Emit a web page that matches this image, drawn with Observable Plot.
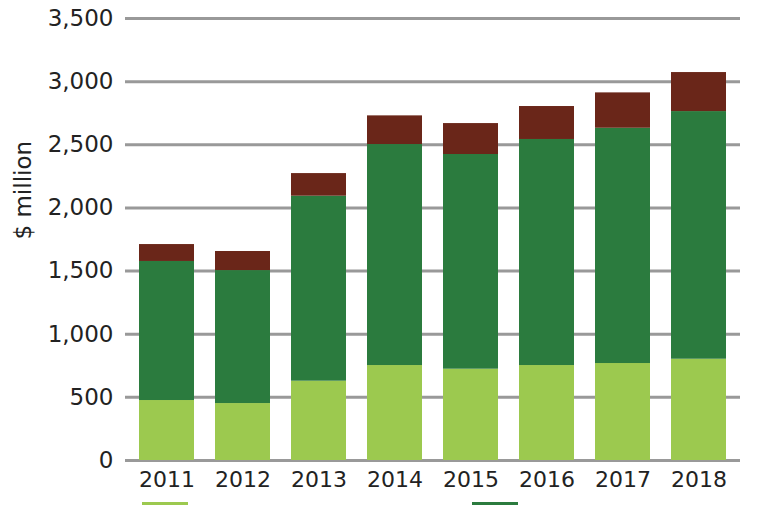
<!DOCTYPE html>
<html>
<head>
<meta charset="utf-8">
<script src="https://cdn.jsdelivr.net/npm/d3@7"></script>
<script src="https://cdn.jsdelivr.net/npm/@observablehq/plot@0.6"></script>
<style>
  body { margin: 0; background: #fff; font-family: "DejaVu Sans", sans-serif; overflow: hidden; }
  #chart svg { display: block; }
  #legend { display: flex; margin-left: 142px; margin-top: 2px; }
  .item { flex: none; width: 330px; }
  .sw { display: block; width: 46px; height: 16px; }
</style>
</head>
<body>
<div id="chart"></div>
<div id="legend"></div>
<script>
const years = ["2011", "2012", "2013", "2014", "2015", "2016", "2017", "2018"];
const seriesNames = ["Series A", "Series B", "Series C"];
const seriesColors = ["#9cc94f", "#2b7b3e", "#6a2619"];
const seriesA = [475, 451, 628, 752, 723, 752, 768, 802];
const seriesB = [1101, 1053, 1465, 1750, 1700, 1790, 1863, 1961];
const seriesC = [134, 151, 179, 227, 245, 261, 280, 309];
const yTicks = [0, 500, 1000, 1500, 2000, 2500, 3000, 3500];

const values = [seriesA, seriesB, seriesC];
const data = [];
years.forEach((y, i) => {
  values.forEach((vals, s) => data.push({year: y, series: seriesNames[s], value: vals[i]}));
});

const chart = Plot.plot({
  width: 764,
  height: 500,
  marginLeft: 125,
  marginRight: 24,
  marginTop: 18,
  marginBottom: 40,
  style: {fontFamily: "DejaVu Sans, sans-serif", fontSize: "23px", color: "#222", background: "#fff"},
  x: {domain: years, paddingInner: 0.27, paddingOuter: 0.14, label: null},
  y: {domain: [0, 3500], label: null},
  color: {domain: seriesNames, range: seriesColors},
  marks: [
    Plot.ruleY(yTicks, {stroke: "#999", strokeWidth: 3}),
    Plot.barY(data, Plot.stackY({order: null}, {x: "year", y: "value", fill: "series", title: "series"})),
    Plot.axisX({tickSize: 0, tickPadding: 11, fontSize: 22, label: null}),
    Plot.axisY({ticks: yTicks, tickFormat: d3.format(","), tickSize: 0, tickPadding: 12, label: null, fontSize: 23}),
    Plot.text(["$ million"], {frameAnchor: "left", dx: -102, rotate: -90, fontSize: 23, fill: "#222"})
  ]
});
document.getElementById("chart").appendChild(chart);

const legend = document.getElementById("legend");
seriesNames.forEach((n, i) => {
  const it = document.createElement("div");
  it.className = "item";
  it.innerHTML = `<span class="sw" title="${n}" style="background:${seriesColors[i]}"></span>`;
  legend.appendChild(it);
});
</script>
</body>
</html>
